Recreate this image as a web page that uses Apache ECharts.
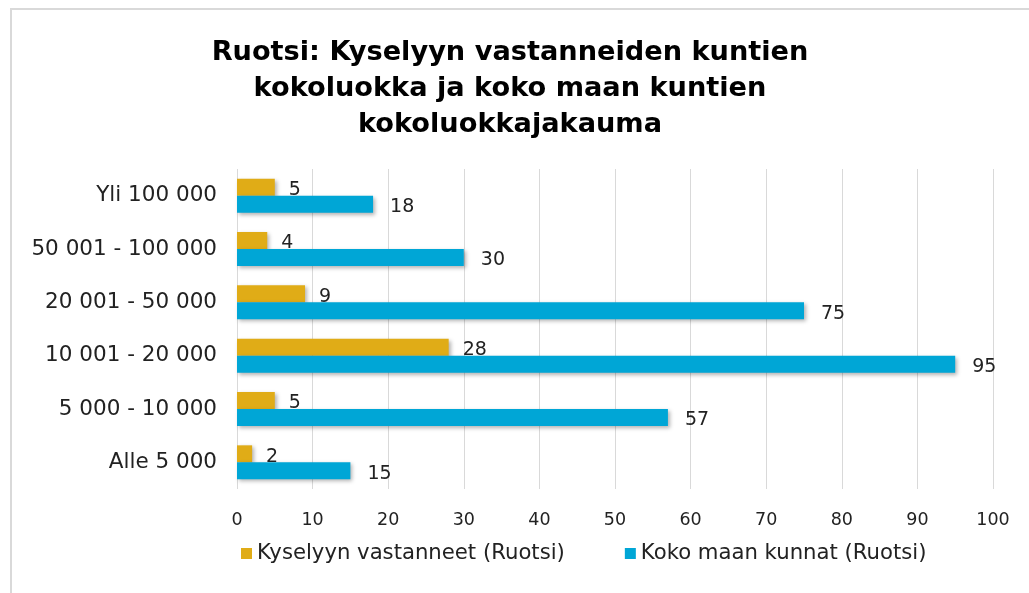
<!DOCTYPE html>
<html lang="fi">
<head>
<meta charset="UTF-8">
<title>Ruotsi kokoluokat</title>
<script src="https://cdn.jsdelivr.net/npm/echarts@6.0.0/dist/echarts.min.js"></script>
<style>
  html, body { margin: 0; padding: 0; background: #fff; }
  #frame {
    position: absolute; left: 10px; top: 8px; width: 1030px; height: 590px;
    border: 2px solid #d9d9d9; box-sizing: border-box;
  }
  #main { position: absolute; left: 0; top: 0; width: 1029px; height: 593px; }
</style>
</head>
<body>
<div id="frame"></div>
<div id="main"></div>
<script>
  // kokoluokat alhaalta ylös (ECharts piirtää ensimmäisen alimmaksi)
  const categories = ['Alle 5 000', '5 000 - 10 000', '10 001 - 20 000', '20 001 - 50 000', '50 001 - 100 000', 'Yli 100 000'];
  const vastanneet = [2, 5, 28, 9, 4, 5];
  const kaikki = [15, 57, 95, 75, 30, 18];
  const xTicks = [0, 10, 20, 30, 40, 50, 60, 70, 80, 90, 100];

  const font = 'Verdana, "DejaVu Sans", sans-serif';
  const chart = echarts.init(document.getElementById('main'));

  const barShadow = {
    shadowBlur: 4, shadowOffsetX: 2, shadowOffsetY: 2, shadowColor: 'rgba(0,0,0,0.3)'
  };

  chart.setOption({
    animation: false,
    textStyle: { fontFamily: font },
    title: {
      text: 'Ruotsi: Kyselyyn vastanneiden kuntien\nkokoluokka ja koko maan kuntien\nkokoluokkajakauma',
      left: 505, top: 30, textAlign: 'center',
      textStyle: { fontSize: 27.2, fontWeight: 'bold', color: '#000', lineHeight: 36, fontFamily: font }
    },
    legend: {
      bottom: 24, left: 236,
      itemWidth: 11, itemHeight: 11, itemGap: 60,
      icon: 'rect',
      textStyle: { fontSize: 21.2, color: '#222', fontFamily: font },
      data: ['Kyselyyn vastanneet (Ruotsi)', 'Koko maan kunnat (Ruotsi)']
    },
    grid: { left: 237, right: 36, top: 169, bottom: 104, containLabel: false },
    xAxis: {
      type: 'value', min: 0, max: 100, interval: 10,
      axisLine: { show: false }, axisTick: { show: false },
      splitLine: { lineStyle: { color: '#d9d9d9', width: 1 } },
      axisLabel: {
        fontSize: 17.5, color: '#222', margin: 22,
        formatter: v => xTicks.includes(v) ? String(v) : ''
      }
    },
    yAxis: {
      type: 'category', data: categories,
      axisLine: { show: false }, axisTick: { show: false },
      axisLabel: { fontSize: 21.5, color: '#222', margin: 20 }
    },
    series: [
      {
        name: 'Kyselyyn vastanneet (Ruotsi)', type: 'bar', data: vastanneet,
        barWidth: 17, barGap: '0%',
        itemStyle: Object.assign({ color: '#e0ac17' }, barShadow),
        label: { show: true, position: 'right', distance: 14, offset: [0, 3], fontSize: 19, color: '#222', fontFamily: font }
      },
      {
        name: 'Koko maan kunnat (Ruotsi)', type: 'bar', data: kaikki,
        barWidth: 17, barGap: '0%',
        itemStyle: Object.assign({ color: '#00a6d6' }, barShadow),
        label: { show: true, position: 'right', distance: 17, offset: [0, 3], fontSize: 19, color: '#222', fontFamily: font }
      }
    ]
  });
</script>
</body>
</html>
